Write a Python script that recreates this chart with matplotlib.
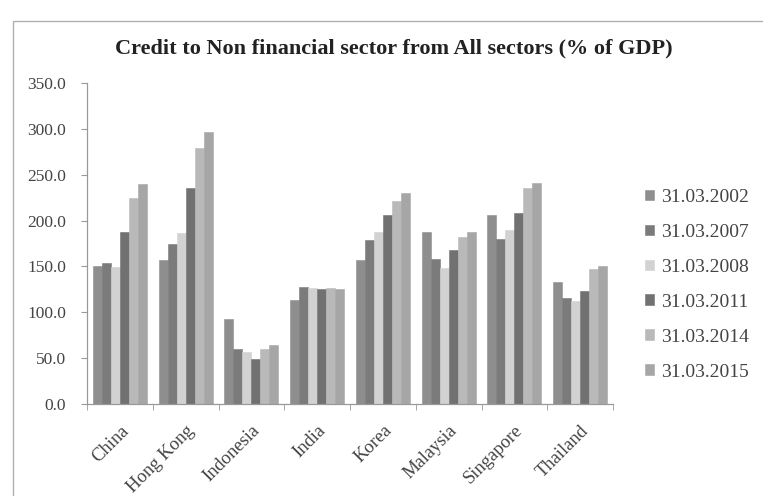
import numpy as np
import matplotlib.pyplot as plt
from matplotlib.patches import Rectangle

# credit to non financial sector, % of GDP
countries = ['China', 'Hong Kong', 'Indonesia', 'India', 'Korea', 'Malaysia', 'Singapore', 'Thailand']
dates = ['31.03.2002', '31.03.2007', '31.03.2008', '31.03.2011', '31.03.2014', '31.03.2015']

v2002 = [150.5, 157.0, 93.0, 113.5, 157.0, 188.0, 206.0, 133.0]
v2007 = [153.5, 175.0, 59.5, 128.0, 179.0, 158.0, 180.0, 116.0]
v2008 = [149.5, 186.0, 57.0, 126.0, 188.0, 148.0, 190.0, 112.0]
v2011 = [188.0, 236.0, 49.0, 125.0, 206.0, 168.0, 208.0, 123.0]
v2014 = [225.0, 279.0, 60.0, 126.0, 221.0, 182.0, 235.0, 147.0]
v2015 = [240.0, 297.0, 64.0, 125.0, 230.0, 188.0, 241.0, 150.0]

series = [v2002, v2007, v2008, v2011, v2014, v2015]
colors = ['#8e8e8e', '#7b7b7b', '#d2d2d2', '#717171', '#b9b9b9', '#a6a6a6']

plt.rcParams['font.family'] = ['Liberation Serif', 'DejaVu Serif']

fig = plt.figure(figsize=(7.63, 4.96), dpi=100)
# outer chart border
fig.patches.append(Rectangle((13 / 763, -0.05), 1.0, 1 - 21 / 496 + 0.05,
                             transform=fig.transFigure, fill=False,
                             edgecolor='#b0b0b0', linewidth=1.0))

ax = fig.add_axes([87 / 763, 1 - 404 / 496, 526 / 763, 321 / 496])

x = np.arange(len(countries))
w = 0.137
for i, (vals, c) in enumerate(zip(series, colors)):
    off = (i - 2.5) * w
    ax.bar(x + off, vals, width=w, color=c, edgecolor=c, linewidth=0.4,
           label=dates[i])

ax.set_xlim(-0.5, len(countries) - 0.5)
ax.set_ylim(0, 350)
ax.set_yticks(np.arange(0, 351, 50))
ax.set_yticklabels(['%.1f' % t for t in np.arange(0, 351, 50)],
                   fontsize=12.5, color='#444444')

ax.set_xticks(x)
ax.set_xticklabels(countries, rotation=45, ha='right', rotation_mode='anchor',
                   fontsize=13.3, color='#444444')
ax.set_xticks(np.arange(-0.5, len(countries)), minor=True)
ax.tick_params(axis='x', which='major', length=0, pad=13)
ax.tick_params(axis='x', which='minor', length=4, color='#999999')
ax.tick_params(axis='y', length=4, color='#999999', pad=11)

for s in ['top', 'right']:
    ax.spines[s].set_visible(False)
for s in ['left', 'bottom']:
    ax.spines[s].set_color('#999999')
    ax.spines[s].set_linewidth(0.9)

fig.text(394 / 763, 1 - 48 / 496,
         'Credit to Non financial sector from All sectors (% of GDP)',
         ha='center', va='center', fontsize=16, fontweight='bold',
         color='#222222')

leg = ax.legend(loc='upper left', bbox_to_anchor=(1.047, 0.695), frameon=False,
                fontsize=14, handlelength=0.45, handleheight=0.45,
                handletextpad=0.35, labelspacing=0.925, borderaxespad=0)
for t in leg.get_texts():
    t.set_color('#444444')

fig.savefig('out.png', dpi=100)
